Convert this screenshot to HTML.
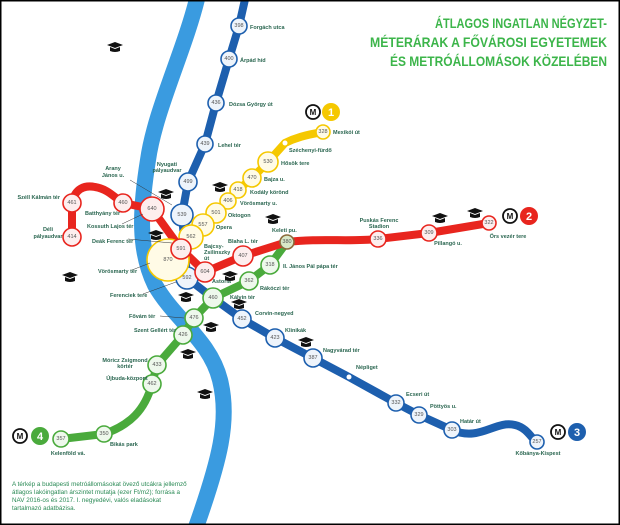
<!DOCTYPE html>
<html><head><meta charset="utf-8"><style>
html,body{margin:0;padding:0;background:#fff}
svg{display:block}
.t{font-family:"Liberation Sans",sans-serif;font-size:5.5px;font-weight:bold;fill:#2a6650}
.n{font-family:"Liberation Sans",sans-serif;font-size:5.5px;fill:#555;text-anchor:middle;dominant-baseline:central}
.ti{font-family:"Liberation Sans Narrow","Liberation Sans",sans-serif;font-weight:bold;font-size:14px;fill:#3cb54a;text-anchor:end}
</style></head><body>
<svg width="620" height="525" viewBox="0 0 620 525" xmlns="http://www.w3.org/2000/svg">
<defs>
<g id="cap"><path d="M-8,-3 L0,-6 L8,-3 L0,0 Z" fill="#111"/><path d="M-5,-1 L-5,3 Q0,5 5,3 L5,-1 L0,1 Z" fill="#111"/></g>
</defs>
<rect x="0" y="0" width="620" height="525" fill="#fff"/>
<!-- river -->
<path d="M198,-5 C185,50 155,110 148,160 C140,210 138,250 155,285 C175,320 210,340 220,380 C230,420 220,460 195,530" fill="none" stroke="#3a9be0" stroke-width="16"/>
<!-- title -->
<text class="ti" x="607" y="28" textLength="172" lengthAdjust="spacingAndGlyphs">ÁTLAGOS INGATLAN NÉGYZET-</text>
<text class="ti" x="607" y="47" textLength="237" lengthAdjust="spacingAndGlyphs">MÉTERÁRAK A FŐVÁROSI EGYETEMEK</text>
<text class="ti" x="607" y="66" textLength="217" lengthAdjust="spacingAndGlyphs">ÉS METRÓÁLLOMÁSOK KÖZELÉBEN</text>
<!-- line 3 blue -->
<path d="M246,-5 L239,26 L229,59 L216,103 L205,144 L188,182 L182,215 L185,250 L187,278 L213,298 L242,319 L275,338 L313,358 L349,377 L396,403 L419,415 L452,430 C480,442 495,420 515,425 C528,428 532,440 537,442" fill="none" stroke="#1d5fae" stroke-width="8" stroke-linejoin="round" stroke-linecap="round"/>
<!-- line 4 green -->
<path d="M61,439 L104,434 C130,425 145,410 152,384 L157,365 L183,335 L194,318 L213,298 L249,281 L270,265 L287,242" fill="none" stroke="#4aaa3c" stroke-width="8" stroke-linejoin="round" stroke-linecap="round"/>
<!-- line 1 yellow -->
<path d="M323,132 C305,135 295,138 285,143 L268,162 L252,178 L238,190 L228,201 L216,213 L203,225 L191,237 L181,249 L168,260" fill="none" stroke="#f5c800" stroke-width="8" stroke-linejoin="round" stroke-linecap="round"/>
<!-- line 2 red -->
<path d="M72,237 L72,203 C75,188 85,185 95,187 C108,189 115,198 123,203 L152,209 L181,249 L205,272 L243,256 L287,242 C320,238 350,242 378,239 L429,233 L489,223" fill="none" stroke="#e8251e" stroke-width="8" stroke-linejoin="round" stroke-linecap="round"/>
<circle cx="285" cy="143" r="2.5" fill="#fff"/>
<circle cx="349" cy="377" r="2.5" fill="#fff"/>
<!-- stations -->
<g stroke-width="1.6">
<g stroke="#1d5fae" fill="#eef4fb">
<circle cx="239" cy="26" r="8"/><circle cx="229" cy="59" r="8"/><circle cx="216" cy="103" r="8"/><circle cx="205" cy="144" r="8"/><circle cx="188" cy="182" r="9"/><circle cx="182" cy="215" r="11"/><circle cx="187" cy="278" r="11"/><circle cx="242" cy="319" r="9"/><circle cx="275" cy="338" r="9"/><circle cx="313" cy="358" r="9"/><circle cx="396" cy="403" r="8"/><circle cx="419" cy="415" r="8"/><circle cx="452" cy="430" r="8"/><circle cx="537" cy="442" r="7"/>
</g>
<g stroke="#f5c800" fill="#fffbe6">
<circle cx="323" cy="132" r="7"/><circle cx="268" cy="162" r="10"/><circle cx="252" cy="178" r="9"/><circle cx="238" cy="190" r="8"/><circle cx="228" cy="201" r="8"/><circle cx="216" cy="213" r="10"/><circle cx="203" cy="225" r="11"/><circle cx="191" cy="237" r="12"/><circle cx="168" cy="260" r="21"/>
</g>
<g stroke="#e8251e" fill="#fdeeee">
<circle cx="72" cy="203" r="9"/><circle cx="72" cy="237" r="9"/><circle cx="123" cy="203" r="9"/><circle cx="152" cy="209" r="12"/><circle cx="181" cy="249" r="10"/><circle cx="205" cy="272" r="10"/><circle cx="243" cy="256" r="10"/><circle cx="378" cy="239" r="8"/><circle cx="429" cy="233" r="8"/><circle cx="489" cy="223" r="7"/>
</g>
<g stroke="#4aaa3c" fill="#eef8ec">
<circle cx="61" cy="439" r="8"/><circle cx="104" cy="434" r="8"/><circle cx="152" cy="384" r="9"/><circle cx="157" cy="365" r="9"/><circle cx="183" cy="335" r="9"/><circle cx="194" cy="318" r="9"/><circle cx="213" cy="298" r="10"/><circle cx="249" cy="281" r="9"/><circle cx="270" cy="265" r="9"/>
</g>
<circle cx="287" cy="242" r="7" stroke="#8a6a3a" fill="#d9e8c8"/>
</g>
<g class="n">
<text x="239" y="26">398</text><text x="229" y="59">400</text><text x="216" y="103">436</text><text x="205" y="144">439</text><text x="188" y="182">499</text><text x="182" y="215">539</text><text x="187" y="278">592</text><text x="242" y="319">452</text><text x="275" y="338">423</text><text x="313" y="358">387</text><text x="396" y="403">332</text><text x="419" y="415">329</text><text x="452" y="430">303</text><text x="537" y="442">257</text>
<text x="323" y="132">328</text><text x="268" y="162">530</text><text x="252" y="178">470</text><text x="238" y="190">418</text><text x="228" y="201">406</text><text x="216" y="213">501</text><text x="203" y="225">557</text><text x="191" y="237">562</text><text x="168" y="260">870</text>
<text x="72" y="203">461</text><text x="72" y="237">414</text><text x="123" y="203">460</text><text x="152" y="209">640</text><text x="181" y="249">591</text><text x="205" y="272">604</text><text x="243" y="256">407</text><text x="378" y="239">336</text><text x="429" y="233">309</text><text x="489" y="223">322</text>
<text x="61" y="439">357</text><text x="104" y="434">350</text><text x="152" y="384">462</text><text x="157" y="365">433</text><text x="183" y="335">426</text><text x="194" y="318">476</text><text x="213" y="298">460</text><text x="249" y="281">362</text><text x="270" y="265">318</text><text x="287" y="242">380</text>
</g>
<!-- leader lines -->
<g stroke="#333" stroke-width="0.5" fill="none">
<path d="M130,180 L172,205"/><path d="M122,224 L143,214"/><path d="M128,239 L172,243"/><path d="M132,270 L150,263"/><path d="M143,294 L176,282"/><path d="M160,316 L184,318"/>
</g>
<!-- labels -->
<g class="t">
<text x="250" y="29">Forgách utca</text><text x="240" y="62">Árpád híd</text><text x="229" y="106">Dózsa György út</text><text x="218" y="147">Lehel tér</text>
<text x="167" y="166" text-anchor="middle">Nyugati</text><text x="167" y="172" text-anchor="middle">pályaudvar</text>
<text x="113" y="170" text-anchor="middle">Arany</text><text x="113" y="177" text-anchor="middle">János u.</text>
<text x="333" y="134">Mexikói út</text><text x="289" y="152">Széchenyi-fürdő</text><text x="281" y="165">Hősök tere</text><text x="264" y="181">Bajza u.</text><text x="250" y="194">Kodály körönd</text><text x="240" y="205">Vörösmarty u.</text><text x="228" y="217">Oktogon</text><text x="216" y="229">Opera</text>
<text x="204" y="248">Bajcsy-</text><text x="204" y="254">Zsilinszky</text><text x="204" y="260">út</text>
<text x="228" y="243">Blaha L. tér</text><text x="272" y="232">Keleti pu.</text><text x="283" y="268">II. János Pál pápa tér</text><text x="260" y="290">Rákóczi tér</text><text x="230" y="299">Kálvin tér</text><text x="255" y="315">Corvin-negyed</text><text x="285" y="332">Klinikák</text><text x="323" y="352">Nagyvárad tér</text><text x="356" y="369">Népliget</text><text x="406" y="396">Ecseri út</text><text x="430" y="408">Pöttyös u.</text><text x="460" y="423">Határ út</text><text x="538" y="455" text-anchor="middle">Kőbánya-Kispest</text>
<text x="212" y="283">Astoria</text>
<text x="60" y="199" text-anchor="end">Széll Kálmán tér</text><text x="48" y="231" text-anchor="middle">Déli</text><text x="48" y="238" text-anchor="middle">pályaudvar</text>
<text x="85" y="215">Batthyány tér</text><text x="87" y="228">Kossuth Lajos tér</text><text x="92" y="243">Deák Ferenc tér</text><text x="98" y="273">Vörösmarty tér</text><text x="110" y="297">Ferenciek tere</text><text x="129" y="318">Fővám tér</text><text x="134" y="332">Szent Gellért tér</text>
<text x="125" y="362" text-anchor="middle">Móricz Zsigmond</text><text x="125" y="368" text-anchor="middle">körtér</text><text x="127" y="380" text-anchor="middle">Újbuda-központ</text>
<text x="110" y="446">Bikás park</text><text x="68" y="455" text-anchor="middle">Kelenföld vá.</text>
<text x="379" y="222" text-anchor="middle">Puskás Ferenc</text><text x="379" y="228" text-anchor="middle">Stadion</text><text x="448" y="245" text-anchor="middle">Pillangó u.</text><text x="508" y="238" text-anchor="middle">Örs vezér tere</text>
</g>
<!-- metro logos -->
<g font-family="Liberation Sans,sans-serif" font-weight="bold" text-anchor="middle">
<circle cx="313" cy="112" r="7" fill="#fff" stroke="#111" stroke-width="1.8"/><text x="313" y="115" font-size="8" fill="#111">M</text><circle cx="331" cy="112" r="9" fill="#f5c800"/><text x="331" y="116" font-size="11" fill="#fff">1</text>
<circle cx="510" cy="216" r="7" fill="#fff" stroke="#111" stroke-width="1.8"/><text x="510" y="219" font-size="8" fill="#111">M</text><circle cx="529" cy="216" r="9" fill="#e8251e"/><text x="529" y="220" font-size="11" fill="#fff">2</text>
<circle cx="558" cy="432" r="7" fill="#fff" stroke="#111" stroke-width="1.8"/><text x="558" y="435" font-size="8" fill="#111">M</text><circle cx="577" cy="432" r="9" fill="#1d5fae"/><text x="577" y="436" font-size="11" fill="#fff">3</text>
<circle cx="20" cy="436" r="7" fill="#fff" stroke="#111" stroke-width="1.8"/><text x="20" y="439" font-size="8" fill="#111">M</text><circle cx="40" cy="436" r="9" fill="#4aaa3c"/><text x="40" y="440" font-size="11" fill="#fff">4</text>
</g>
<!-- caps -->
<use href="#cap" x="115" y="48"/><use href="#cap" x="166" y="195"/><use href="#cap" x="220" y="188"/><use href="#cap" x="156" y="236"/><use href="#cap" x="70" y="278"/><use href="#cap" x="273" y="220"/><use href="#cap" x="230" y="277"/><use href="#cap" x="186" y="298"/><use href="#cap" x="239" y="305"/><use href="#cap" x="211" y="328"/><use href="#cap" x="306" y="343"/><use href="#cap" x="188" y="355"/><use href="#cap" x="205" y="395"/><use href="#cap" x="440" y="219"/><use href="#cap" x="475" y="214"/>
<!-- note -->
<g font-family="Liberation Sans,sans-serif" font-size="6.3px" fill="#2a8a55">
<text x="12" y="486">A térkép a budapesti metróállomásokat övező utcákra jellemző</text>
<text x="12" y="494">átlagos lakóingatlan árszintet mutatja (ezer Ft/m2); forrása a</text>
<text x="12" y="502">NAV 2016-os és 2017. I. negyedévi, valós eladásokat</text>
<text x="12" y="510">tartalmazó adatbázisa.</text>
</g>
<rect x="0.75" y="0.75" width="618.5" height="523.5" fill="none" stroke="#000" stroke-width="1.5"/>
</svg>
</body></html>
